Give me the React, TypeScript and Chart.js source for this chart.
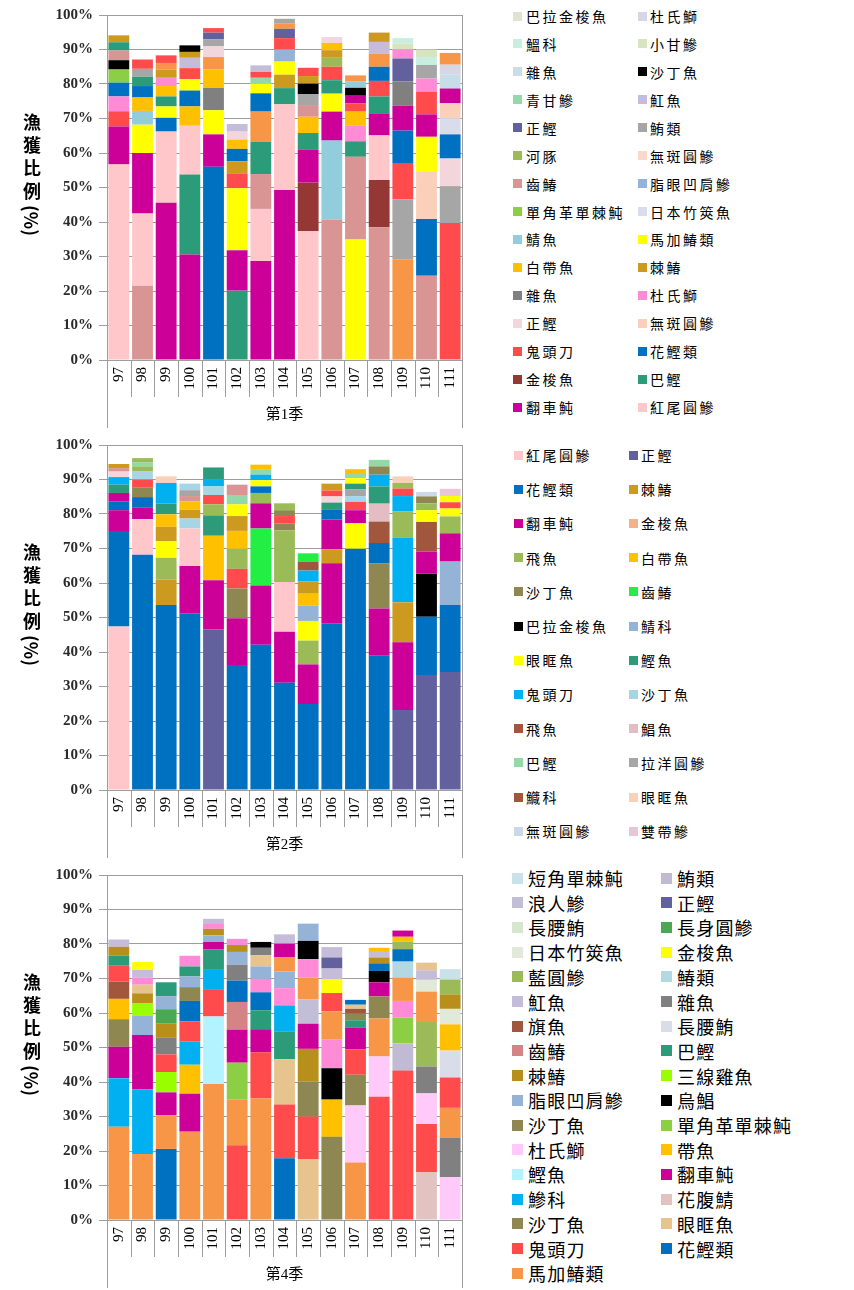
import React, { useEffect, useRef } from "react";
import { Chart, registerables } from "chart.js";
Chart.register(...registerables);

// ---------- data ----------
const years = ["97", "98", "99", "100", "101", "102", "103", "104", "105", "106", "107", "108", "109", "110", "111"];
const yTickStep = 10;
const seasonTitles = ["第1季", "第2季", "第4季"];
const yTitleMain = "漁獲比例";
const yTitleUnit = "(%)";

const PALETTE: Record<string, string> = {
  pink: "#ffc7c9", mag: "#cc0099", teal: "#2c9b79", dred: "#953735", blue: "#0070c0",
  red: "#ff4b4b", salm: "#fbd0bb", lpk: "#f2d6dc", hpk: "#ff8ad6", dgray: "#808080",
  gold: "#cc9a1e", amber: "#ffc000", yel: "#ffff00", lblue: "#92cddc", ljack: "#d9dcea",
  lime: "#8ccf45", fat: "#95b3d7", dusty: "#d99594", olive: "#9bbb59", gray: "#a6a6a6",
  navy: "#63609e", lav: "#c4bcd8", mint: "#92d8a8", blk: "#000000", lgreen: "#d7e4bd",
  mint2: "#c6efdf", lav2: "#d6d6e6", beige: "#e2e2d0", lbg: "#c9dde8", salm2: "#fcd8cc",
  orange: "#f79646", sky: "#00b0f0", sandy: "#8f8752", brown: "#a0573d", bgreen: "#22ee44",
  lsky: "#a6d5e6", pomf: "#e4bcc4", lgb: "#cad8e8", sha: "#e8c6d6", gsalm: "#f4b18a",
  cyan: "#b3f2ff", lime2: "#99ff00", green: "#4aa852", tan: "#e7c48e", lpk3: "#ffc9f9",
  mack: "#e3c2c2", jack3: "#e2e9d8", ltail: "#d8dde9", ltail2: "#d8e6d0", short: "#c9e1e9",
  lblue3: "#b2d8e2", ronin: "#c2bed6", tuna3: "#c1bad3", gold3: "#b88f1a", dusty3: "#d48484",
};

type Seg = [string, number];

// 第1季: per year, segments from bottom to top (species colour, share %)
const q1Stacks: Seg[][] = [
  [["pink", 56.7], ["mag", 11.0], ["red", 4.4], ["hpk", 4.3], ["blue", 4.0], ["lime", 3.8], ["blk", 2.7], ["dusty", 2.8], ["teal", 2.4], ["gold", 2.0]],
  [["dusty", 21.5], ["pink", 21.0], ["mag", 17.5], ["yel", 8.2], ["lblue", 4.0], ["amber", 3.9], ["blue", 3.3], ["teal", 2.7], ["gray", 2.3], ["red", 2.7]],
  [["mag", 45.6], ["pink", 20.6], ["blue", 4.0], ["yel", 3.3], ["teal", 2.9], ["amber", 3.0], ["hpk", 2.4], ["gold", 2.4], ["orange", 1.9], ["red", 2.2]],
  [["mag", 30.6], ["teal", 23.2], ["pink", 14.1], ["amber", 5.6], ["blue", 4.6], ["yel", 3.3], ["red", 3.2], ["lav", 3.0], ["gold", 1.7], ["blk", 1.9]],
  [["blue", 56.0], ["mag", 9.4], ["yel", 7.0], ["dgray", 6.5], ["amber", 5.3], ["orange", 3.6], ["lpk", 3.1], ["gray", 2.1], ["navy", 1.9], ["red", 1.3]],
  [["teal", 20.1], ["mag", 11.7], ["yel", 18.0], ["red", 4.3], ["gold", 3.5], ["blue", 3.6], ["amber", 2.7], ["lpk", 2.3], ["lav", 2.2]],
  [["mag", 28.7], ["pink", 15.1], ["dusty", 10.1], ["teal", 9.3], ["orange", 8.8], ["blue", 5.3], ["yel", 2.8], ["mint", 1.7], ["red", 1.7], ["lav", 1.9]],
  [["mag", 49.3], ["pink", 24.8], ["teal", 4.7], ["gold", 3.9], ["yel", 3.8], ["fat", 3.5], ["red", 3.3], ["navy", 2.7], ["orange", 1.6], ["gray", 1.3]],
  [["pink", 37.3], ["dred", 14.1], ["mag", 9.5], ["teal", 4.9], ["amber", 4.7], ["dusty", 3.4], ["gray", 3.1], ["blk", 3.1], ["gold", 2.2], ["red", 2.4]],
  [["dusty", 40.7], ["lblue", 22.9], ["mag", 8.4], ["yel", 5.2], ["teal", 3.9], ["red", 3.9], ["olive", 2.6], ["gold", 2.2], ["amber", 2.1], ["lpk", 1.7]],
  [["yel", 34.9], ["dusty", 24.0], ["teal", 4.5], ["hpk", 4.5], ["amber", 4.1], ["red", 2.4], ["mag", 2.2], ["blk", 2.3], ["lblue", 1.8], ["orange", 1.8]],
  [["dusty", 38.5], ["dred", 13.7], ["pink", 12.9], ["mag", 6.4], ["teal", 4.9], ["red", 4.5], ["blue", 4.1], ["orange", 3.8], ["lav", 3.4], ["gold", 2.7]],
  [["orange", 29.2], ["gray", 17.4], ["red", 10.5], ["blue", 9.4], ["mag", 7.2], ["dgray", 7.0], ["navy", 6.7], ["hpk", 2.6], ["lgreen", 1.7], ["mint2", 1.6]],
  [["dusty", 24.4], ["blue", 16.5], ["salm", 13.8], ["yel", 10.0], ["mag", 6.5], ["red", 6.6], ["hpk", 3.8], ["gray", 3.9], ["mint2", 2.3], ["lgreen", 2.2]],
  [["red", 39.7], ["gray", 10.7], ["lpk", 8.0], ["blue", 7.0], ["ljack", 4.7], ["salm", 4.3], ["mag", 4.3], ["lbg", 4.1], ["lav2", 2.8], ["orange", 3.4]],
];

// 第2季
const q2Stacks: Seg[][] = [
  [["pink", 47.4], ["blue", 27.4], ["mag", 6.3], ["blue", 2.6], ["mag", 2.4], ["teal", 2.4], ["sky", 2.2], ["lpk", 1.6], ["dusty", 1.0], ["gold", 1.2]],
  [["blue", 68.2], ["pink", 10.3], ["mag", 3.3], ["blue", 3.1], ["sandy", 2.7], ["red", 2.4], ["lsky", 2.3], ["olive", 1.5], ["mint", 1.1], ["olive", 1.3]],
  [["blue", 53.6], ["gold", 7.4], ["olive", 6.3], ["yel", 4.8], ["gold", 4.2], ["amber", 3.6], ["teal", 3.1], ["sky", 6.0], ["salm", 1.9]],
  [["blue", 51.2], ["mag", 13.7], ["pink", 10.9], ["lsky", 2.9], ["gold", 2.5], ["amber", 2.4], ["dusty", 1.6], ["gray", 1.7], ["lsky", 1.9]],
  [["navy", 46.6], ["mag", 14.2], ["amber", 12.9], ["teal", 5.9], ["olive", 3.2], ["red", 2.7], ["lsky", 2.5], ["sky", 2.1], ["teal", 3.4]],
  [["blue", 36.2], ["mag", 13.6], ["sandy", 8.6], ["red", 5.7], ["olive", 5.8], ["amber", 5.2], ["gold", 4.3], ["yel", 3.4], ["mint", 2.7], ["dusty", 3.0]],
  [["blue", 42.1], ["mag", 17.2], ["bgreen", 16.5], ["mag", 7.3], ["olive", 3.0], ["blue", 1.9], ["yel", 1.8], ["sky", 1.6], ["mint", 1.4], ["amber", 1.5]],
  [["blue", 31.1], ["mag", 14.8], ["pink", 14.4], ["olive", 15.0], ["sandy", 2.0], ["red", 2.1], ["sandy", 1.7], ["olive", 2.0]],
  [["blue", 24.9], ["mag", 11.5], ["olive", 6.9], ["yel", 5.7], ["fat", 4.4], ["amber", 3.5], ["gold", 3.6], ["sky", 3.1], ["brown", 2.6], ["bgreen", 2.4]],
  [["blue", 48.3], ["mag", 17.4], ["gold", 4.1], ["mag", 8.6], ["blue", 2.8], ["teal", 2.1], ["lpk", 1.8], ["red", 1.7], ["gold", 2.0]],
  [["blue", 69.9], ["yel", 7.4], ["mag", 3.8], ["red", 2.4], ["lsky", 1.7], ["gray", 1.9], ["teal", 1.7], ["yel", 1.6], ["mint", 1.2], ["amber", 1.4]],
  [["blue", 38.9], ["mag", 13.7], ["sandy", 13.1], ["blue", 5.9], ["brown", 6.2], ["pomf", 5.2], ["teal", 5.0], ["sky", 3.4], ["sandy", 2.4], ["mint", 1.9]],
  [["navy", 23.2], ["mag", 19.6], ["gold", 11.6], ["sky", 18.7], ["olive", 7.6], ["sky", 4.5], ["red", 2.2], ["olive", 1.6], ["salm", 1.9]],
  [["navy", 33.3], ["blue", 16.9], ["blk", 12.5], ["mag", 6.4], ["brown", 8.6], ["yel", 3.4], ["olive", 2.0], ["sandy", 2.0], ["lgb", 1.3]],
  [["navy", 34.2], ["blue", 19.4], ["fat", 12.6], ["mag", 8.2], ["olive", 4.9], ["yel", 2.3], ["red", 1.8], ["yel", 1.8], ["sha", 2.1]],
];

// 第4季
const q4Stacks: Seg[][] = [
  [["orange", 27.0], ["sky", 14.1], ["mag", 9.1], ["sandy", 8.0], ["amber", 5.9], ["brown", 5.0], ["red", 4.6], ["teal", 2.9], ["gold3", 2.6], ["lav", 2.1]],
  [["orange", 19.1], ["sky", 18.7], ["mag", 15.8], ["fat", 5.7], ["lime2", 3.6], ["gold3", 2.8], ["tan", 2.5], ["hpk", 2.1], ["lav", 2.2], ["yel", 2.3]],
  [["blue", 20.6], ["orange", 9.8], ["mag", 6.6], ["lime2", 5.9], ["red", 5.1], ["dgray", 4.8], ["gold3", 4.1], ["green", 4.2], ["fat", 3.8], ["teal", 4.0]],
  [["orange", 25.6], ["mag", 11.0], ["amber", 8.4], ["sky", 6.7], ["red", 5.9], ["blue", 5.9], ["sandy", 4.0], ["fat", 3.1], ["teal", 2.9], ["hpk", 3.1]],
  [["orange", 39.4], ["cyan", 19.6], ["red", 7.7], ["sky", 5.8], ["teal", 6.0], ["mag", 2.1], ["fat", 1.9], ["gold3", 1.9], ["hpk", 1.4], ["lav", 1.5]],
  [["red", 21.7], ["orange", 13.2], ["lime", 10.7], ["mag", 9.6], ["dusty3", 8.0], ["blue", 6.2], ["dgray", 4.6], ["fat", 3.7], ["gold3", 2.0], ["hpk", 1.8]],
  [["orange", 35.2], ["red", 13.4], ["mag", 6.7], ["teal", 5.5], ["blue", 5.2], ["hpk", 3.9], ["fat", 3.6], ["tan", 3.2], ["dgray", 2.2], ["blk", 1.7]],
  [["blue", 17.9], ["red", 15.6], ["tan", 13.1], ["teal", 8.1], ["sky", 7.5], ["hpk", 5.0], ["fat", 4.8], ["orange", 4.1], ["mag", 4.0], ["lav", 2.7]],
  [["tan", 17.7], ["red", 12.3], ["sandy", 10.2], ["gold3", 9.4], ["mag", 7.3], ["ronin", 7.0], ["orange", 6.4], ["hpk", 5.3], ["blk", 5.3], ["fat", 5.0]],
  [["sandy", 24.1], ["amber", 10.8], ["blk", 9.1], ["hpk", 8.4], ["orange", 8.1], ["red", 5.3], ["yel", 3.9], ["lav", 3.2], ["navy", 3.2], ["lav", 3.0]],
  [["orange", 16.7], ["lpk3", 16.5], ["sandy", 8.9], ["red", 7.4], ["mag", 6.3], ["teal", 2.1], ["sandy", 1.9], ["brown", 1.4], ["tan", 1.2], ["blue", 1.4]],
  [["red", 35.7], ["lpk3", 11.7], ["orange", 11.0], ["sandy", 6.4], ["mag", 4.1], ["blk", 3.3], ["blue", 2.2], ["gold3", 1.7], ["lav", 1.6], ["amber", 1.2]],
  [["red", 43.3], ["tuna3", 7.9], ["lime", 7.5], ["hpk", 4.8], ["orange", 6.8], ["lblue3", 4.6], ["blue", 3.6], ["olive", 2.2], ["amber", 1.4], ["mag", 1.8]],
  [["mack", 13.9], ["red", 13.9], ["lpk3", 8.9], ["dgray", 7.8], ["olive", 12.9], ["orange", 8.8], ["jack3", 3.4], ["lav", 2.8], ["tan", 2.2]],
  [["lpk3", 12.4], ["dgray", 11.5], ["orange", 8.6], ["red", 8.8], ["ltail", 7.8], ["amber", 7.6], ["jack3", 4.5], ["gold3", 4.2], ["olive", 4.3], ["short", 3.0]],
];

// legends (row-wise, two columns)
const q1Legend: [string, string][] = [
  ["巴拉金梭魚", "beige"], ["杜氏鰤", "lav2"],
  ["鰮科", "mint2"], ["小甘鰺", "lgreen"],
  ["雜魚", "lbg"], ["沙丁魚", "blk"],
  ["青甘鰺", "mint"], ["魟魚", "lav"],
  ["正鰹", "navy"], ["鮪類", "gray"],
  ["河豚", "olive"], ["無斑圓鰺", "salm2"],
  ["齒鰆", "dusty"], ["脂眼凹肩鰺", "fat"],
  ["單角革單棘魨", "lime"], ["日本竹筴魚", "ljack"],
  ["鯖魚", "lblue"], ["馬加鰆類", "yel"],
  ["白帶魚", "amber"], ["棘鰆", "gold"],
  ["雜魚", "dgray"], ["杜氏鰤", "hpk"],
  ["正鰹", "lpk"], ["無斑圓鰺", "salm"],
  ["鬼頭刀", "red"], ["花鰹類", "blue"],
  ["金梭魚", "dred"], ["巴鰹", "teal"],
  ["翻車魨", "mag"], ["紅尾圓鰺", "pink"],
];
const q2Legend: [string, string][] = [
  ["紅尾圓鰺", "pink"], ["正鰹", "navy"],
  ["花鰹類", "blue"], ["棘鰆", "gold"],
  ["翻車魨", "mag"], ["金梭魚", "gsalm"],
  ["飛魚", "olive"], ["白帶魚", "amber"],
  ["沙丁魚", "sandy"], ["齒鰆", "bgreen"],
  ["巴拉金梭魚", "blk"], ["鯖科", "fat"],
  ["眼眶魚", "yel"], ["鰹魚", "teal"],
  ["鬼頭刀", "sky"], ["沙丁魚", "lsky"],
  ["飛魚", "brown"], ["鯧魚", "pomf"],
  ["巴鰹", "mint"], ["拉洋圓鰺", "gray"],
  ["鱵科", "brown"], ["眼眶魚", "salm"],
  ["無斑圓鰺", "lgb"], ["雙帶鰺", "sha"],
];
const q4Legend: [string, string][] = [
  ["短角單棘魨", "short"], ["鮪類", "tuna3"],
  ["浪人鰺", "ronin"], ["正鰹", "navy"],
  ["長腰鮪", "ltail2"], ["長身圓鰺", "green"],
  ["日本竹筴魚", "jack3"], ["金梭魚", "yel"],
  ["藍圓鰺", "olive"], ["鰆類", "lblue3"],
  ["魟魚", "lav"], ["雜魚", "dgray"],
  ["旗魚", "brown"], ["長腰鮪", "ltail"],
  ["齒鰆", "dusty3"], ["巴鰹", "teal"],
  ["棘鰆", "gold3"], ["三線雞魚", "lime2"],
  ["脂眼凹肩鰺", "fat"], ["烏鯧", "blk"],
  ["沙丁魚", "sandy"], ["單角革單棘魨", "lime"],
  ["杜氏鰤", "lpk3"], ["帶魚", "amber"],
  ["鰹魚", "cyan"], ["翻車魨", "mag"],
  ["鰺科", "sky"], ["花腹鯖", "mack"],
  ["沙丁魚", "sandy"], ["眼眶魚", "tan"],
  ["鬼頭刀", "red"], ["花鰹類", "blue"],
  ["馬加鰆類", "orange"],
];

// ---------- layout ----------
const PANEL_H = 430;
const CANVAS_W = 480;
const AXIS_COLOR = "#9d9d9d";

type LegendLayout = {
  swatchX: [number, number]; textX: [number, number]; y0: number; dy: number;
  size: number; font: number; spacing: number;
};
const legendLayouts: LegendLayout[] = [
  { swatchX: [513, 638], textX: [526, 650], y0: 16, dy: 27.93, size: 9, font: 14, spacing: 2.5 },
  { swatchX: [514, 629], textX: [526, 641], y0: 25, dy: 34.2, size: 9, font: 14, spacing: 2.5 },
  { swatchX: [512, 661], textX: [528, 677], y0: 18, dy: 24.7, size: 11, font: 18, spacing: 1.2 },
];

const framePlugin = {
  id: "frame",
  afterDraw(chart: any) {
    const { ctx, chartArea } = chart;
    const { left, right, top, bottom } = chartArea;
    const n = chart.scales.x.ticks.length;
    const w = (right - left) / n;
    ctx.save();
    ctx.strokeStyle = AXIS_COLOR;
    ctx.lineWidth = 1;
    ctx.beginPath();
    const r = Math.round(right) + 0.5;
    ctx.moveTo(r, top);
    ctx.lineTo(r, bottom + 68);
    const l = Math.round(left) + 0.5;
    ctx.moveTo(l, bottom);
    ctx.lineTo(l, bottom + 68);
    for (let i = 1; i < n; i++) {
      const x = Math.round(left + i * w) + 0.5;
      ctx.moveTo(x, bottom);
      ctx.lineTo(x, bottom + 37);
    }
    ctx.stroke();
    ctx.restore();
  },
};

function buildDatasets(stacks: Seg[][]) {
  const layers = Math.max(...stacks.map((s) => s.length));
  const ds: any[] = [];
  for (let k = 0; k < layers; k++) {
    ds.push({
      label: "layer" + k,
      data: stacks.map((s) => (s[k] ? s[k][1] : null)),
      backgroundColor: stacks.map((s) => (s[k] ? PALETTE[s[k][0]] : "rgba(0,0,0,0)")),
      borderWidth: 0,
      barPercentage: 0.88,
      categoryPercentage: 1,
    });
  }
  return ds;
}

function BarPanel({ stacks, title }: { stacks: Seg[][]; title: string }) {
  const ref = useRef<HTMLCanvasElement>(null);
  useEffect(() => {
    if (!ref.current) return;
    const chart = new Chart(ref.current, {
      type: "bar",
      data: { labels: years, datasets: buildDatasets(stacks) },
      plugins: [framePlugin],
      options: {
        animation: false,
        responsive: false,
        devicePixelRatio: 1,
        layout: { padding: { top: 12, right: 18, left: 0, bottom: 0 } },
        plugins: { legend: { display: false }, tooltip: { enabled: false } },
        scales: {
          x: {
            stacked: true,
            offset: true,
            grid: { display: false, drawTicks: false },
            border: { display: true, color: AXIS_COLOR, width: 1 },
            ticks: {
              autoSkip: false,
              minRotation: 90,
              maxRotation: 90,
              padding: 7,
              color: "#000",
              font: { family: "'Liberation Serif', serif", size: 15 },
            },
            title: {
              display: true,
              text: title,
              color: "#000",
              padding: { top: 0, bottom: 6 },
              font: { family: "'Liberation Serif', 'Noto Sans CJK TC', serif", size: 15, lineHeight: 1.2 },
            },
            afterFit: (scale: any) => {
              scale.height = 70;
            },
          },
          y: {
            stacked: true,
            min: 0,
            max: 100,
            grid: { color: AXIS_COLOR, lineWidth: 1, drawTicks: true, tickLength: 8, tickColor: AXIS_COLOR },
            border: { display: true, color: AXIS_COLOR, width: 1 },
            ticks: {
              stepSize: yTickStep,
              padding: 6,
              color: "#2a2a2a",
              font: { family: "'Liberation Serif', serif", size: 15, weight: "bold" },
              callback: (v: any) => v + "%",
            },
            afterFit: (scale: any) => {
              scale.width = 107;
            },
          },
        },
      } as any,
    });
    return () => chart.destroy();
  }, [stacks, title]);
  return <canvas ref={ref} width={CANVAS_W} height={PANEL_H} style={{ position: "absolute", left: 0, top: 0 }} />;
}

function Legend({ items, lay }: { items: [string, string][]; lay: LegendLayout }) {
  return (
    <>
      {items.map(([name, key], i) => {
        const col = i % 2;
        const row = Math.floor(i / 2);
        const cy = lay.y0 + row * lay.dy;
        const lh = lay.font + 6;
        return (
          <div
            key={i}
            style={{
              position: "absolute",
              left: lay.swatchX[col],
              top: cy - lh / 2,
              height: lh,
              display: "flex",
              alignItems: "center",
              whiteSpace: "nowrap",
            }}
          >
            <span style={{ display: "inline-block", width: lay.size, height: lay.size, background: PALETTE[key] }} />
            <span
              style={{
                marginLeft: lay.textX[col] - lay.swatchX[col] - lay.size,
                fontFamily: "'Noto Sans CJK TC', sans-serif",
                fontSize: lay.font,
                letterSpacing: lay.spacing,
                color: "#000",
                lineHeight: lh + "px",
              }}
            >
              {name}
            </span>
          </div>
        );
      })}
    </>
  );
}

function YTitle() {
  return (
    <div
      style={{
        position: "absolute",
        left: 22,
        top: 113,
        writingMode: "vertical-rl",
        fontFamily: "'Noto Sans CJK TC', sans-serif",
        fontWeight: "bold",
        fontSize: 18,
        lineHeight: "20px",
        color: "#000",
      }}
    >
      <span style={{ letterSpacing: 5 }}>{yTitleMain}</span>
      <span>{yTitleUnit}</span>
    </div>
  );
}

const panels = [
  { stacks: q1Stacks, legend: q1Legend },
  { stacks: q2Stacks, legend: q2Legend },
  { stacks: q4Stacks, legend: q4Legend },
];

export default function App() {
  return (
    <div style={{ position: "absolute", left: 0, top: 0, width: 854, height: 1290, background: "#fff", overflow: "hidden" }}>
      {panels.map((p, i) => (
        <div key={i} style={{ position: "absolute", left: 0, top: i * PANEL_H, width: 854, height: PANEL_H }}>
          <BarPanel stacks={p.stacks} title={seasonTitles[i]} />
          <YTitle />
          <Legend items={p.legend} lay={legendLayouts[i]} />
        </div>
      ))}
    </div>
  );
}
